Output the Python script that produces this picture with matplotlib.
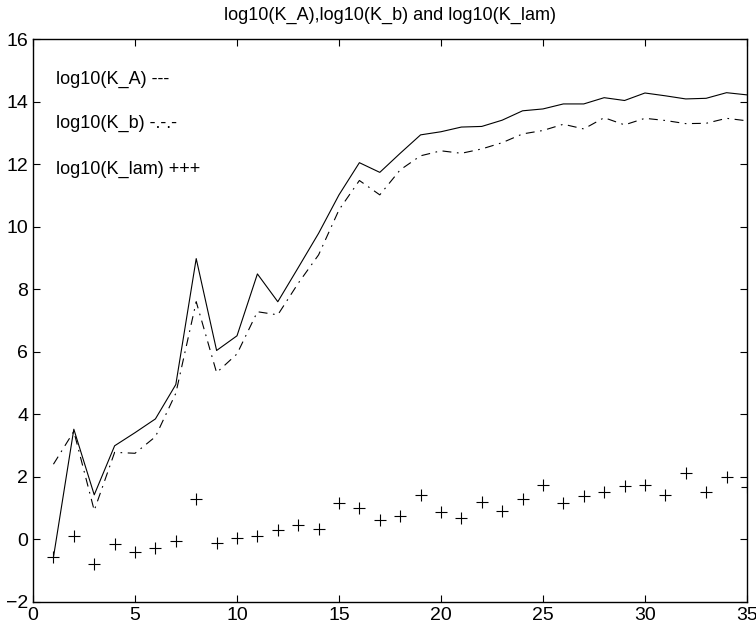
import numpy as np
import matplotlib
matplotlib.use("Agg")
import matplotlib.pyplot as plt

# index 1..35
x = np.arange(1, 36)

log_KA = [-0.58, 3.52, 1.42, 2.99, 3.41, 3.85, 4.95, 8.98, 6.04, 6.51,
          8.49, 7.60, 8.69, 9.79, 11.02, 12.05, 11.74, 12.35, 12.94, 13.04,
          13.19, 13.21, 13.41, 13.71, 13.77, 13.93, 13.93, 14.13, 14.04, 14.28,
          14.19, 14.09, 14.11, 14.29, 14.22]

log_Kb = [2.40, 3.45, 0.92, 2.78, 2.75, 3.28, 4.67, 7.60, 5.33, 5.93,
          7.28, 7.18, 8.19, 9.10, 10.54, 11.48, 11.02, 11.82, 12.27, 12.43,
          12.35, 12.49, 12.69, 12.97, 13.08, 13.28, 13.13, 13.49, 13.26, 13.47,
          13.40, 13.30, 13.31, 13.47, 13.39]

log_Klam = [-0.58, 0.10, -0.79, -0.16, -0.41, -0.28, -0.05, 1.28, -0.11, 0.04,
            0.10, 0.28, 0.45, 0.32, 1.15, 1.01, 0.60, 0.75, 1.40, 0.88,
            0.69, 1.18, 0.90, 1.29, 1.74, 1.15, 1.38, 1.50, 1.71, 1.75,
            1.42, 2.13, 1.50, 1.99, 1.68]

labels = ["log10(K_A) ---", "log10(K_b) -.-.-", "log10(K_lam) +++"]
label_y = [14.7, 13.31, 11.82]

plt.rcParams.update({
    "font.family": ["Liberation Sans", "DejaVu Sans"],
    "font.size": 13,
})

fig = plt.figure(figsize=(7.56, 6.26), dpi=100)
ax = fig.add_axes([0.0437, 0.0388, 0.9443, 0.8985])

ax.plot(x, log_KA, color="black", lw=0.8)
ax.plot(x, log_Kb, color="black", lw=0.8, linestyle=(0, (8, 5, 1.5, 5)))
ax.plot(x, log_Klam, linestyle="none", marker="+", color="black",
        markersize=8, markeredgewidth=0.8)

for txt, yy in zip(labels, label_y):
    ax.text(1.13, yy, txt, ha="left", va="center", fontsize=13)

ax.set_xlim(0, 35)
ax.set_ylim(-2, 16)
ax.set_xticks(np.arange(0, 36, 5))
ax.set_yticks(np.arange(-2, 17, 2))
ax.tick_params(direction="in", length=5, width=0.8, top=True, right=True,
               labelsize=14)
for s in ax.spines.values():
    s.set_linewidth(1.0)

ax.set_title("log10(K_A),log10(K_b) and log10(K_lam)", fontsize=13, pad=14)

fig.savefig("out.png", dpi=100)
